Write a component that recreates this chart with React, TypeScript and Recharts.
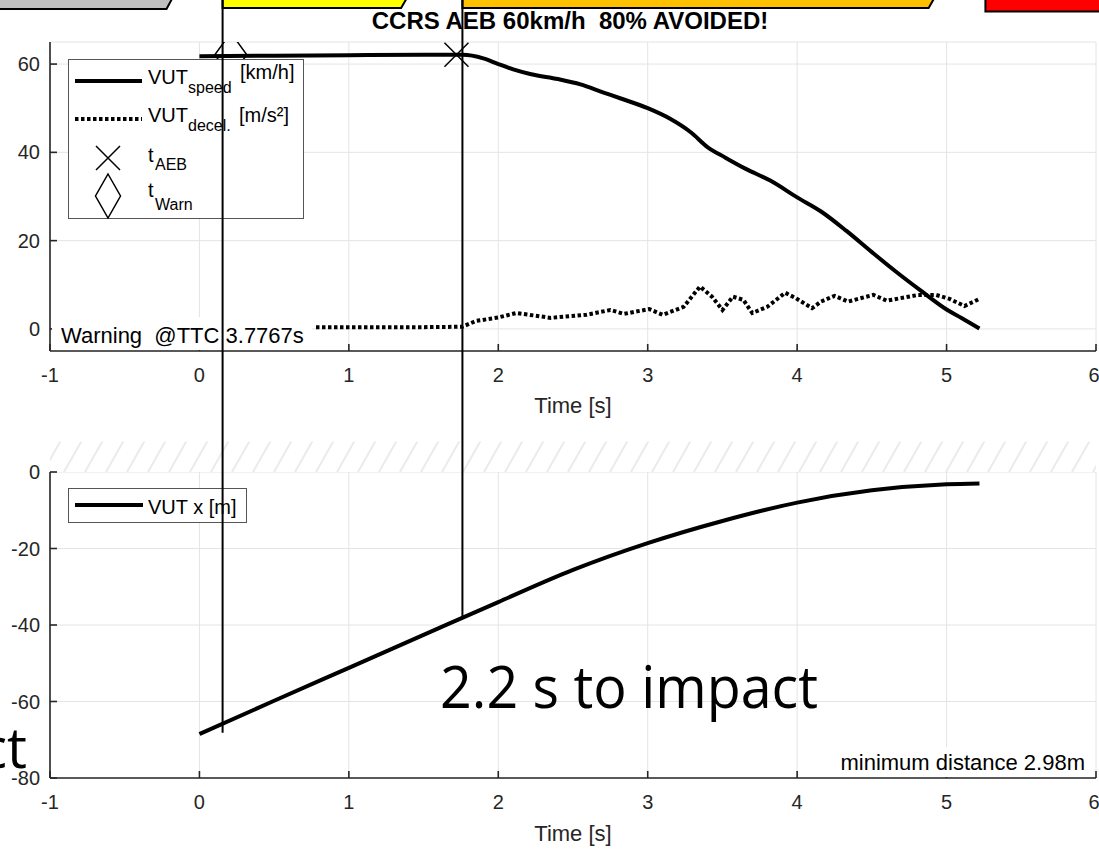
import React from "react"
import {
  ComposedChart,
  Line,
  Scatter,
  XAxis,
  YAxis,
  CartesianGrid,
  ReferenceLine,
  ReferenceArea,
  Legend,
} from "recharts"

const FONT = '"Liberation Sans", Arial, Helvetica, sans-serif'
const AXIS = "#262626"
const GRID = "#e4e4e4"
const W = 1099

// axes
const timeTicks = [-1, 0, 1, 2, 3, 4, 5, 6]
const speedTicks = [0, 20, 40, 60]
const distTicks = [-80, -60, -40, -20, 0]

// VUT speed [km/h]
const speedTime = [0, 0.5, 1.0, 1.5, 1.76, 1.9, 2.0, 2.1, 2.22, 2.4, 2.55, 2.7, 2.82, 3.0, 3.15, 3.29, 3.4, 3.52, 3.66, 3.82, 4.0, 4.16, 4.33, 4.5, 4.66, 4.83, 5.0, 5.1, 5.22]
const speedVals = [61.8, 61.9, 62.0, 62.1, 62.1, 61.3, 60.0, 58.8, 57.7, 56.6, 55.4, 53.6, 52.2, 50.0, 47.6, 44.5, 41.2, 38.8, 36.2, 33.6, 29.8, 26.6, 22.2, 17.4, 13.0, 8.6, 4.4, 2.5, 0.1]

// VUT deceleration [m/s²]
const decelTime = [0.78, 1.0, 1.5, 1.76, 1.85, 2.0, 2.12, 2.25, 2.35, 2.59, 2.75, 2.84, 3.01, 3.1, 3.24, 3.35, 3.43, 3.5, 3.57, 3.64, 3.7, 3.8, 3.92, 3.99, 4.1, 4.16, 4.25, 4.34, 4.51, 4.6, 4.81, 4.93, 5.02, 5.12, 5.22]
const decelVals = [0.4, 0.4, 0.4, 0.5, 1.8, 2.6, 3.6, 3.0, 2.5, 3.2, 4.3, 3.4, 4.5, 3.2, 5.0, 9.6, 7.3, 4.3, 7.3, 6.6, 3.6, 5.0, 8.2, 7.0, 4.7, 6.2, 7.5, 6.2, 7.7, 6.4, 7.7, 7.7, 6.8, 5.2, 6.8]

// VUT x [m]
const posTime = [0, 0.5, 1.0, 1.5, 2.0, 2.5, 3.0, 3.5, 4.0, 4.5, 5.0, 5.22]
const posVals = [-68.5, -59.8, -51.2, -42.6, -34.0, -25.6, -18.6, -12.8, -8.0, -4.8, -3.2, -2.98]

// events
const tWarn = 0.155
const tAEB = 1.76
const warnMarker = [{ t: 0.21, v: 62.1 }]
const aebMarker = [{ t: 1.72, v: 62.1 }]
const warnLineEnd = -68.2
const aebLineEnd = -37.9

// phase banner on top
const phaseStart = [-1.4, tWarn, tAEB, 5.26]
const phaseEnd = [-0.16, 1.41, 4.94, 6.6]
const phaseLow = [121.05, 121.3, 121.3, 120.4]
const phaseColor = ["#c0c0c0", "#ffff00", "#ffc000", "#ff0000"]

// overlay y range, in the x [m] units of the lower plot
const Y_TOP = 123.4
const Y_BOT = -98.56

const speedData = speedTime.map((t, i) => ({ t, v: speedVals[i] }))
const decelData = decelTime.map((t, i) => ({ t, v: decelVals[i] }))
const posData = posTime.map((t, i) => ({ t, v: posVals[i] }))

const tickStyle = { fill: AXIS, fontSize: 20, fontFamily: FONT }
const axisLine = { stroke: AXIS, strokeWidth: 1.6 }
const axisLabel = { fill: AXIS, fontSize: 22, fontFamily: FONT }

const Diamond = (props: any) => {
  const { cx, cy } = props
  return (
    <path
      d={`M${cx},${cy - 22} L${cx + 16},${cy} L${cx},${cy + 22} L${cx - 16},${cy} Z`}
      fill="none"
      stroke="#000"
      strokeWidth={1.5}
    />
  )
}

const Cross = (props: any) => {
  const { cx, cy } = props
  return (
    <path
      d={`M${cx - 12},${cy - 12} L${cx + 12},${cy + 12} M${cx - 12},${cy + 12} L${cx + 12},${cy - 12}`}
      stroke="#000"
      strokeWidth={1.5}
    />
  )
}

const bannerShape = (props: any) => {
  const { x, y, width, height, fill } = props
  const pts = `${x},${y} ${x + width},${y} ${x + width - 9},${y + height} ${x},${y + height}`
  return <polygon points={pts} fill={fill} stroke="#000" strokeWidth={2} />
}

const TopLegend = () => (
  <svg width={236} height={160} style={{ display: "block" }} fontFamily={FONT} fill="#000">
    <rect x={0.5} y={0.5} width={235} height={159} fill="#fff" stroke="#555" strokeWidth={1} />
    <line x1={7} x2={74} y1={22} y2={22} stroke="#000" strokeWidth={4} />
    <text x={80} y={25} fontSize={20}>VUT</text>
    <text x={120} y={34} fontSize={16}>speed</text>
    <text x={172} y={20} fontSize={20}>[km/h]</text>
    <line x1={7} x2={74} y1={60} y2={60} stroke="#000" strokeWidth={4} strokeDasharray="3.5 2.5" />
    <text x={80} y={63} fontSize={20}>VUT</text>
    <text x={120} y={72} fontSize={16}>decel.</text>
    <text x={171} y={63} fontSize={20}>[m/s²]</text>
    <path d="M28,87 L52,111 M28,111 L52,87" stroke="#000" strokeWidth={1.5} />
    <text x={80} y={103} fontSize={20}>t</text>
    <text x={87} y={111} fontSize={16}>AEB</text>
    <path d="M40,115 L52.5,137 L40,159 L27.5,137 Z" fill="none" stroke="#000" strokeWidth={1.5} />
    <text x={80} y={138} fontSize={20}>t</text>
    <text x={87} y={151} fontSize={16}>Warn</text>
  </svg>
)

const BottomLegend = () => (
  <svg width={179} height={35} style={{ display: "block" }} fontFamily={FONT}>
    <rect x={0.5} y={0.5} width={178} height={34} fill="#fff" stroke="#555" strokeWidth={1} />
    <line x1={7} x2={75} y1={17} y2={17} stroke="#000" strokeWidth={4} />
    <text x={80} y={26} fontSize={20} fill="#000">VUT x [m]</text>
  </svg>
)

export default function App() {
  return (
    <div style={{ position: "absolute", left: 0, top: 0, width: W, height: 849, background: "#fff" }}>
      {/* upper plot: speed and deceleration */}
      <div style={{ position: "absolute", left: 0, top: 0 }}>
        <ComposedChart width={W} height={441} margin={{ top: 42, right: 3, bottom: 28, left: 0 }}>
          <CartesianGrid stroke={GRID} strokeWidth={1} />
          <XAxis
            type="number"
            dataKey="t"
            domain={[-1, 6]}
            ticks={timeTicks}
            allowDataOverflow
            height={62}
            tickSize={-7}
            tickMargin={24}
            axisLine={axisLine}
            tickLine={axisLine}
            tick={tickStyle}
            label={{ value: "Time [s]", position: "insideBottom", offset: 0, ...axisLabel }}
          />
          <YAxis
            type="number"
            dataKey="v"
            domain={[-5, 65]}
            ticks={speedTicks}
            allowDataOverflow
            width={50}
            tickSize={-7}
            tickMargin={17}
            axisLine={axisLine}
            tickLine={axisLine}
            tick={tickStyle}
          />
          <Line data={speedData} dataKey="v" type="monotone" stroke="#000" strokeWidth={4} dot={false} isAnimationActive={false} />
          <Line
            data={decelData}
            dataKey="v"
            type="linear"
            stroke="#000"
            strokeWidth={4}
            strokeDasharray="3.5 2.5"
            dot={false}
            isAnimationActive={false}
          />
          <Scatter data={warnMarker} dataKey="v" shape={Diamond} isAnimationActive={false} />
          <Scatter data={aebMarker} dataKey="v" shape={Cross} isAnimationActive={false} />
          <Legend
            content={() => <TopLegend />}
            layout="vertical"
            align="center"
            verticalAlign="middle"
            wrapperStyle={{ left: 68, top: 59, width: 236, height: 160 }}
          />
        </ComposedChart>
      </div>

      {/* lower plot: position */}
      <div style={{ position: "absolute", left: 0, top: 441 }}>
        <ComposedChart width={W} height={408} margin={{ top: 31, right: 3, bottom: 8, left: 0 }}>
          <defs>
            <pattern id="hatch" patternUnits="userSpaceOnUse" width={21} height={31}>
              <rect width={21} height={31} fill="#fff" />
              <path d="M1,31 L18.5,0" stroke="#ebebeb" strokeWidth={2} />
            </pattern>
          </defs>
          <CartesianGrid stroke={GRID} strokeWidth={1} />
          <XAxis
            type="number"
            dataKey="t"
            domain={[-1, 6]}
            ticks={timeTicks}
            allowDataOverflow
            height={63}
            tickSize={-7}
            tickMargin={24}
            axisLine={axisLine}
            tickLine={axisLine}
            tick={tickStyle}
            label={{ value: "Time [s]", position: "insideBottom", offset: 0, ...axisLabel }}
          />
          <YAxis
            type="number"
            dataKey="v"
            domain={[-80, 0]}
            ticks={distTicks}
            allowDataOverflow
            width={50}
            tickSize={-7}
            tickMargin={17}
            axisLine={axisLine}
            tickLine={axisLine}
            tick={tickStyle}
          />
          <ReferenceArea x1={-1} x2={6} y1={0} y2={8} ifOverflow="visible" fill="url(#hatch)" fillOpacity={1} stroke="none" />
          <Line data={posData} dataKey="v" type="monotone" stroke="#000" strokeWidth={4} dot={false} isAnimationActive={false} />
          <Legend
            content={() => <BottomLegend />}
            layout="vertical"
            align="center"
            verticalAlign="middle"
            wrapperStyle={{ left: 68, top: 47, width: 179, height: 35 }}
          />
        </ComposedChart>
      </div>

      {/* annotations */}
      <svg width={W} height={849} style={{ position: "absolute", left: 0, top: 0, pointerEvents: "none" }} fontFamily={FONT}>
        <text x={570} y={29} textAnchor="middle" fontSize={24} fontWeight="bold" fill="#000" style={{ whiteSpace: "pre" }}>
          CCRS AEB 60km/h  80% AVOIDED!
        </text>
        <rect x={52} y={317} width={260} height={33} fill="#fff" />
        <text x={61} y={343} fontSize={22} fill="#000" style={{ whiteSpace: "pre" }}>
          Warning  @TTC 3.7767s
        </text>
        <rect x={832} y={747} width={254} height={30} fill="#fff" />
        <text x={1085} y={770} textAnchor="end" fontSize={22} fill="#000">
          minimum distance 2.98m
        </text>
        <text x={440} y={708} fontSize={58} fontFamily='"Open Sans", sans-serif' fill="#000" textLength={378} lengthAdjust="spacingAndGlyphs">
          2.2 s to impact
        </text>
        <text x={27} y={768} textAnchor="end" fontSize={56} fontFamily='"Open Sans", sans-serif' fill="#000">
          ct
        </text>
      </svg>

      {/* event lines and phase banner across both plots */}
      <div style={{ position: "absolute", left: 0, top: 0, pointerEvents: "none" }}>
        <ComposedChart width={W} height={849} data={[]} margin={{ top: 0, right: 3, bottom: 0, left: 50 }}>
          <XAxis type="number" dataKey="t" domain={[-1, 6]} hide allowDataOverflow />
          <YAxis type="number" domain={[Y_BOT, Y_TOP]} hide allowDataOverflow />
          {phaseStart.map((s, i) => (
            <ReferenceArea
              key={`phase-${i}`}
              x1={s}
              x2={phaseEnd[i]}
              y1={phaseLow[i]}
              y2={Y_TOP + 2}
              ifOverflow="visible"
              fill={phaseColor[i]}
              fillOpacity={1}
              shape={bannerShape}
            />
          ))}
          <ReferenceLine
            segment={[{ x: tWarn, y: Y_TOP }, { x: tWarn, y: warnLineEnd }]}
            stroke="#000"
            strokeWidth={2}
            ifOverflow="visible"
          />
          <ReferenceLine
            segment={[{ x: tAEB, y: Y_TOP }, { x: tAEB, y: aebLineEnd }]}
            stroke="#000"
            strokeWidth={2}
            ifOverflow="visible"
          />
        </ComposedChart>
      </div>
    </div>
  )
}
